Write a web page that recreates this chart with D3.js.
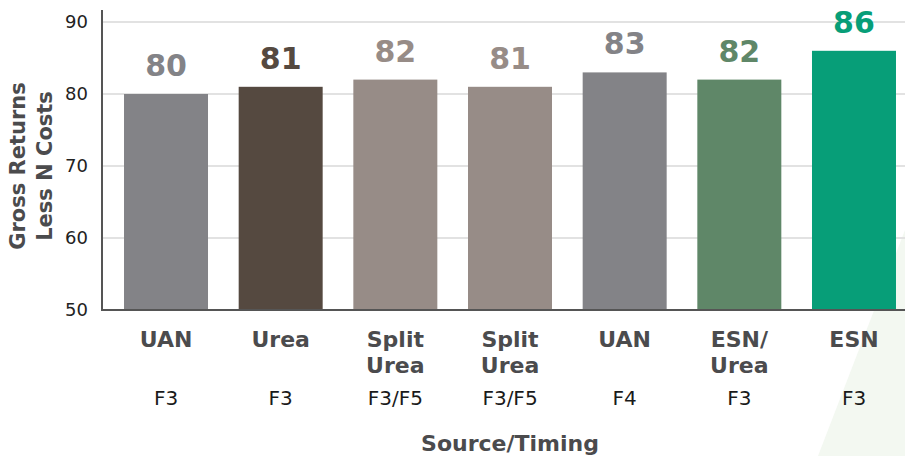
<!DOCTYPE html>
<html>
<head>
<meta charset="utf-8">
<script src="https://cdn.jsdelivr.net/npm/d3@7"></script>
<style>
  body { margin: 0; background: #fff; }
  svg { display: block; font-family: "DejaVu Sans", sans-serif; }
</style>
</head>
<body>
<div id="chart"></div>
<script>
var width = 905,
    height = 456;

// data
var sources = ["UAN", "Urea", "Split Urea", "Split Urea", "UAN", "ESN/ Urea", "ESN"];
var timings = ["F3", "F3", "F3/F5", "F3/F5", "F4", "F3", "F3"];
var values = [80, 81, 82, 81, 83, 82, 86];
var colors = ["#838387", "#554940", "#978c87", "#978c87", "#838387", "#5f8768", "#079e78"];
var yTicks = [50, 60, 70, 80, 90];

var data = values.map(function(v, i) {
  return {i: i, source: sources[i], timing: timings[i], value: v, color: colors[i]};
});

var svg = d3.select("#chart").append("svg")
    .attr("width", width)
    .attr("height", height);

// faint green decoration bottom right
svg.append("path")
    .attr("d", "M818,456 L905,230 L905,456 Z")
    .attr("fill", "#f3f8f1");

var x = d3.scaleBand()
    .domain(d3.range(data.length))
    .range([102, 918])
    .paddingInner(0.2675)
    .paddingOuter(0.192);

var y = d3.scaleLinear()
    .domain([50, 90])
    .range([310, 22]);

// gridlines
svg.append("g").selectAll("line")
    .data(yTicks.slice(1))
  .enter().append("line")
    .attr("x1", 103)
    .attr("x2", 905)
    .attr("y1", function(d) { return y(d); })
    .attr("y2", function(d) { return y(d); })
    .attr("stroke", "#e2e2e2")
    .attr("stroke-width", 2);

// y axis
var yAxis = svg.append("g")
    .attr("transform", "translate(102,0)")
    .call(d3.axisLeft(y).tickValues(yTicks).tickSize(0).tickPadding(14));
yAxis.select(".domain").remove();
yAxis.selectAll("text")
    .attr("font-family", "DejaVu Sans")
    .attr("font-size", 18)
    .attr("fill", "#222");

svg.append("line")
    .attr("x1", 102).attr("x2", 102)
    .attr("y1", 10).attr("y2", 311)
    .attr("stroke", "#555")
    .attr("stroke-width", 2);

// bars
svg.append("g").selectAll("rect")
    .data(data)
  .enter().append("rect")
    .attr("x", function(d) { return x(d.i); })
    .attr("y", function(d) { return y(d.value); })
    .attr("width", x.bandwidth())
    .attr("height", function(d) { return y(50) - y(d.value); })
    .attr("fill", function(d) { return d.color; });

// x axis line
svg.append("line")
    .attr("x1", 101).attr("x2", 905)
    .attr("y1", 310).attr("y2", 310)
    .attr("stroke", "#555")
    .attr("stroke-width", 2);

// value labels
svg.append("g").selectAll("text")
    .data(data)
  .enter().append("text")
    .attr("x", function(d) { return x(d.i) + x.bandwidth() / 2; })
    .attr("y", function(d) { return y(d.value) - 18; })
    .attr("text-anchor", "middle")
    .attr("font-size", 30)
    .attr("font-weight", "bold")
    .attr("fill", function(d) { return d.color; })
    .text(function(d) { return d.value; });

// category labels
var cat = svg.append("g").selectAll("g")
    .data(data)
  .enter().append("g")
    .attr("transform", function(d) { return "translate(" + (x(d.i) + x.bandwidth() / 2) + ",0)"; });

cat.each(function(d) {
  var g = d3.select(this);
  d.source.split(" ").forEach(function(w, k) {
    g.append("text")
        .attr("y", 347 + k * 26)
        .attr("text-anchor", "middle")
        .attr("font-size", 22)
        .attr("font-weight", "bold")
        .attr("fill", "#4b4b4d")
        .text(w);
  });
  g.append("text")
      .attr("y", 405)
      .attr("text-anchor", "middle")
      .attr("font-size", 20)
      .attr("fill", "#1a1a1a")
      .text(d.timing);
});

// axis titles
svg.append("text")
    .attr("x", (x(0) + x(data.length - 1) + x.bandwidth()) / 2)
    .attr("y", 451)
    .attr("text-anchor", "middle")
    .attr("font-size", 22)
    .attr("font-weight", "bold")
    .attr("fill", "#4b4b4d")
    .text("Source/Timing");

var yt = svg.append("text")
    .attr("transform", "translate(0," + y(70) + ")rotate(-90)")
    .attr("text-anchor", "middle")
    .attr("font-size", 21)
    .attr("font-weight", "bold")
    .attr("fill", "#4b4b4d");
yt.append("tspan").attr("x", 0).attr("y", 25).text("Gross Returns");
yt.append("tspan").attr("x", 0).attr("y", 52).text("Less N Costs");
</script>
</body>
</html>
